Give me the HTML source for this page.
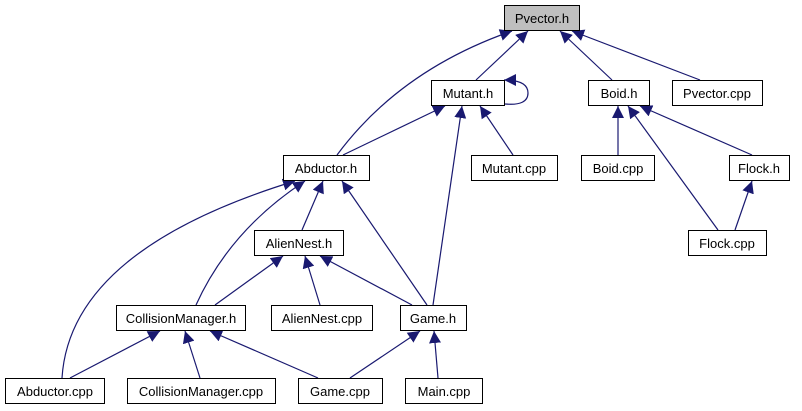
<!DOCTYPE html>
<html><head><meta charset="utf-8"><style>
html,body{margin:0;padding:0;background:#fff;width:802px;height:411px;overflow:hidden}
svg{display:block}
text{font-family:"Liberation Sans",sans-serif;font-size:13px;fill:#000}
</style></head><body>
<svg width="802" height="411" viewBox="0 0 802 411" xmlns="http://www.w3.org/2000/svg">
<defs><marker id="a" viewBox="0 0 10 10" refX="10" refY="5" markerWidth="12" markerHeight="12" markerUnits="userSpaceOnUse" orient="auto"><path d="M0,0L10,5L0,10z" fill="#191970"/></marker></defs>
<g stroke="#191970" stroke-width="1.2" fill="none" marker-end="url(#a)">
<path d="M476,80L528,31"/>
<path d="M337,155Q400,70 512,31"/>
<path d="M612,80L560,31"/>
<path d="M700,80L572,31"/>
<path d="M343,155L445,106"/>
<path d="M513,155L480,106"/>
<path d="M433,305L462,106"/>
<path d="M618,155L618,106"/>
<path d="M752,155L640,106"/>
<path d="M718,230L628,106"/>
<path d="M735,230L752,181"/>
<path d="M302,230L323,181"/>
<path d="M196,305Q230,230 305,181"/>
<path d="M62,378Q70,250 295,181"/>
<path d="M427,305L342,181"/>
<path d="M215,305L283,256"/>
<path d="M320,305L305,256"/>
<path d="M412,305L320,256"/>
<path d="M70,378L160,331"/>
<path d="M200,378L185,331"/>
<path d="M318,378L210,331"/>
<path d="M350,378L420,331"/>
<path d="M438,378L434,331"/>
<path d="M505,104Q528,106 528,93Q528,80 504,80"/>
</g>
<g stroke="#000" stroke-width="1" fill="#fff">
<rect x="504.5" y="5.5" width="75" height="25" fill="#bfbfbf"/>
<rect x="431.5" y="80.5" width="73" height="25"/>
<rect x="588.5" y="80.5" width="61" height="25"/>
<rect x="672.5" y="80.5" width="90" height="25"/>
<rect x="283.5" y="155.5" width="86" height="25"/>
<rect x="471.5" y="155.5" width="86" height="25"/>
<rect x="581.5" y="155.5" width="73" height="25"/>
<rect x="729.5" y="155.5" width="60" height="25"/>
<rect x="254.5" y="230.5" width="89" height="25"/>
<rect x="688.5" y="230.5" width="78" height="25"/>
<rect x="116.5" y="305.5" width="129" height="25"/>
<rect x="271.5" y="305.5" width="101" height="25"/>
<rect x="400.5" y="305.5" width="66" height="25"/>
<rect x="5.5" y="378.5" width="99" height="25"/>
<rect x="127.5" y="378.5" width="148" height="25"/>
<rect x="298.5" y="378.5" width="84" height="25"/>
<rect x="405.5" y="378.5" width="77" height="25"/>
</g>
<g text-anchor="middle">
<text x="542" y="23">Pvector.h</text>
<text x="468" y="98">Mutant.h</text>
<text x="619" y="98">Boid.h</text>
<text x="717" y="98">Pvector.cpp</text>
<text x="326" y="173">Abductor.h</text>
<text x="514" y="173">Mutant.cpp</text>
<text x="618" y="173">Boid.cpp</text>
<text x="759" y="173">Flock.h</text>
<text x="299" y="248">AlienNest.h</text>
<text x="727" y="248">Flock.cpp</text>
<text x="181" y="323">CollisionManager.h</text>
<text x="322" y="323">AlienNest.cpp</text>
<text x="433" y="323">Game.h</text>
<text x="55" y="396">Abductor.cpp</text>
<text x="201" y="396">CollisionManager.cpp</text>
<text x="340" y="396">Game.cpp</text>
<text x="444" y="396">Main.cpp</text>
</g>
</svg>
</body></html>
